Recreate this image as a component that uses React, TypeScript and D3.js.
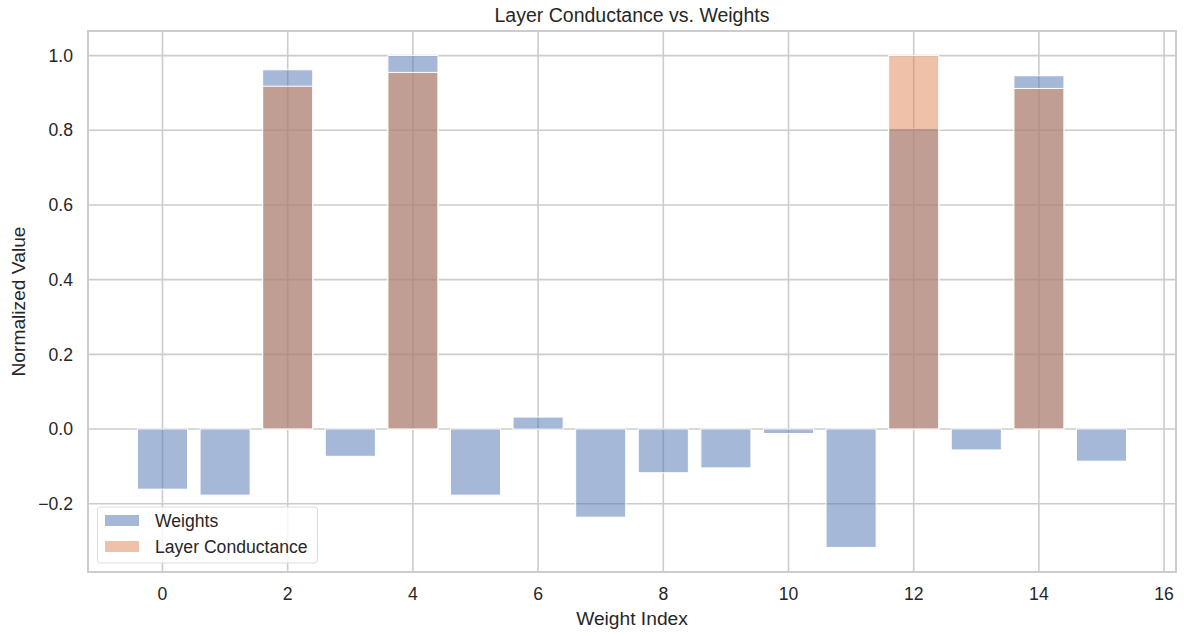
import React from "react";
import * as d3 from "d3";

const indices = d3.range(16);
const weights = [-0.161, -0.177, 0.962, -0.073, 1.0, -0.177, 0.032, -0.236, -0.117, -0.104, -0.012, -0.317, 0.805, -0.056, 0.946, -0.086];
const conductance = [0, 0, 0.918, 0, 0.955, 0, 0, 0, 0, 0, 0, 0, 1.0, 0, 0.912, 0];
const xTicks = [0, 2, 4, 6, 8, 10, 12, 14, 16];
const yTicks = [-0.2, 0, 0.2, 0.4, 0.6, 0.8, 1.0];

const W = 1184, H = 636;
const left = 88, right = 1176, top = 31, bottom = 572;
const font = "'Liberation Sans', Arial, sans-serif";
const BLUE = "#4c72b0";
const ORANGE = "#dd8452";
const GRID = "#cccccc";
const TEXT = "#262626";

export default function App() {
  const x = d3.scaleLinear().domain([-1.19, 16.19]).range([left, right]);
  const allVals = [...weights, ...conductance];
  const lo = d3.min(allVals)!, hi = d3.max(allVals)!;
  const pad = (hi - lo) * 0.05;
  const y = d3.scaleLinear().domain([lo - pad, hi + pad]).range([bottom, top]);
  const bw = x(0.8) - x(0);

  const bar = (i: number, v: number, color: string, key: string) => {
    const y0 = y(0), y1 = y(v);
    return (
      <rect key={key} x={x(i - 0.4)} y={Math.min(y0, y1)} width={bw} height={Math.abs(y1 - y0)}
        fill={color} fillOpacity={0.5} stroke="#ffffff" strokeWidth={1} />
    );
  };

  return (
    <svg width={W} height={H} style={{ position: "absolute", left: 0, top: 0, background: "#fff" }}>
      <rect x={0} y={0} width={W} height={H} fill="#fff" />
      {xTicks.map((t) => (
        <line key={"gx" + t} x1={x(t)} x2={x(t)} y1={top} y2={bottom} stroke={GRID} strokeWidth={1.6} />
      ))}
      {yTicks.map((t) => (
        <line key={"gy" + t} x1={left} x2={right} y1={y(t)} y2={y(t)} stroke={GRID} strokeWidth={1.6} />
      ))}
      {indices.map((i) => bar(i, weights[i], BLUE, "w" + i))}
      {indices.map((i) => bar(i, conductance[i], ORANGE, "c" + i))}
      <rect x={left} y={top} width={right - left} height={bottom - top} fill="none" stroke={GRID} strokeWidth={2} />
      {xTicks.map((t) => (
        <text key={"tx" + t} x={x(t)} y={bottom + 28} textAnchor="middle" fontFamily={font} fontSize={17.6} fill={TEXT}>
          {t}
        </text>
      ))}
      {yTicks.map((t) => (
        <text key={"ty" + t} x={left - 15} y={y(t)} dy="0.35em" textAnchor="end" fontFamily={font} fontSize={17.6} fill={TEXT}>
          {t < 0 ? "\u2212" + Math.abs(t).toFixed(1) : t.toFixed(1)}
        </text>
      ))}
      <text x={(left + right) / 2} y={bottom + 53} textAnchor="middle" fontFamily={font} fontSize={19.2} fill={TEXT}>
        Weight Index
      </text>
      <text transform={`translate(25,${(top + bottom) / 2}) rotate(-90)`} textAnchor="middle" fontFamily={font} fontSize={19.2} fill={TEXT}>
        Normalized Value
      </text>
      <text x={(left + right) / 2} y={top - 9} textAnchor="middle" fontFamily={font} fontSize={19.5} fill={TEXT}>
        Layer Conductance vs. Weights
      </text>
      <g>
        <rect x={97.5} y={507} width={220} height={56} rx={3} fill="#fff" fillOpacity={0.8} stroke="#dddddd" strokeWidth={1} />
        <rect x={105} y={515} width={34} height={11} fill={BLUE} fillOpacity={0.5} />
        <rect x={105} y={541} width={34} height={11} fill={ORANGE} fillOpacity={0.5} />
        <text x={155} y={521} dy="0.35em" fontFamily={font} fontSize={17.6} fill={TEXT}>Weights</text>
        <text x={155} y={547} dy="0.35em" fontFamily={font} fontSize={17.6} fill={TEXT}>Layer Conductance</text>
      </g>
    </svg>
  );
}
